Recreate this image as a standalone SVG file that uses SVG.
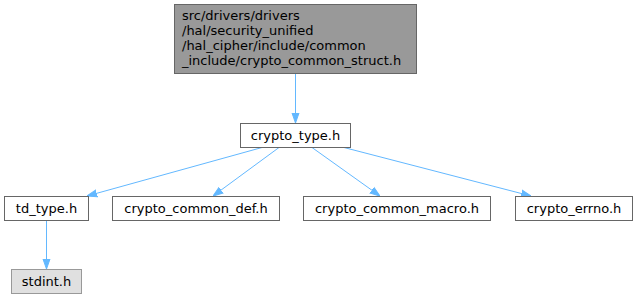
<svg xmlns="http://www.w3.org/2000/svg" width="637" height="300" viewBox="0 0 637 300">
<defs>
<style>
.n rect{fill:#ffffff;stroke:#666666;stroke-width:1}
.n text{font-family:"DejaVu Sans",sans-serif;font-size:13px;fill:#000000;text-anchor:middle}
#root rect{fill:#999999;stroke:#666666}
#root text{text-anchor:start}
#stdint rect{fill:#e0e0e0;stroke:#999999}
.e path{fill:none;stroke:#63b8ff;stroke-width:1}
</style>
<marker id="ah" viewBox="0 0 10 10" refX="10" refY="5" markerWidth="10" markerHeight="10" markerUnits="userSpaceOnUse" orient="auto">
<path d="M0,1.5 L10,5 L0,8.5 Z" fill="#63b8ff" stroke="#63b8ff"/>
</marker>
</defs>
<rect width="637" height="300" fill="#ffffff"/>
<g class="e">
<path d="M295.5,74 L295.5,123" marker-end="url(#ah)"/>
<path d="M262,147.5 L87,196" marker-end="url(#ah)"/>
<path d="M279,147.5 L213,196" marker-end="url(#ah)"/>
<path d="M312,147.5 L380,196" marker-end="url(#ah)"/>
<path d="M344,147.5 L531,196" marker-end="url(#ah)"/>
<path d="M46.5,221 L46.5,269" marker-end="url(#ah)"/>
</g>
<g id="root" class="n">
<rect x="174.5" y="4.5" width="242" height="69"/>
<text x="182" y="20">src/drivers/drivers</text>
<text x="182" y="35">/hal/security_unified</text>
<text x="182" y="50">/hal_cipher/include/common</text>
<text x="182" y="65">_include/crypto_common_struct.h</text>
</g>
<g id="crypto_type" class="n">
<rect x="240.5" y="123.5" width="110" height="24"/>
<text x="295.5" y="140">crypto_type.h</text>
</g>
<g id="td_type" class="n">
<rect x="4.5" y="196.5" width="84" height="24"/>
<text x="46.5" y="213">td_type.h</text>
</g>
<g id="crypto_common_def" class="n">
<rect x="112.5" y="196.5" width="167" height="24"/>
<text x="196" y="213">crypto_common_def.h</text>
</g>
<g id="crypto_common_macro" class="n">
<rect x="303.5" y="196.5" width="187" height="24"/>
<text x="397" y="213">crypto_common_macro.h</text>
</g>
<g id="crypto_errno" class="n">
<rect x="515.5" y="196.5" width="117" height="24"/>
<text x="574" y="213">crypto_errno.h</text>
</g>
<g id="stdint" class="n">
<rect x="11.5" y="269.5" width="70" height="24"/>
<text x="46.5" y="286">stdint.h</text>
</g>
</svg>
